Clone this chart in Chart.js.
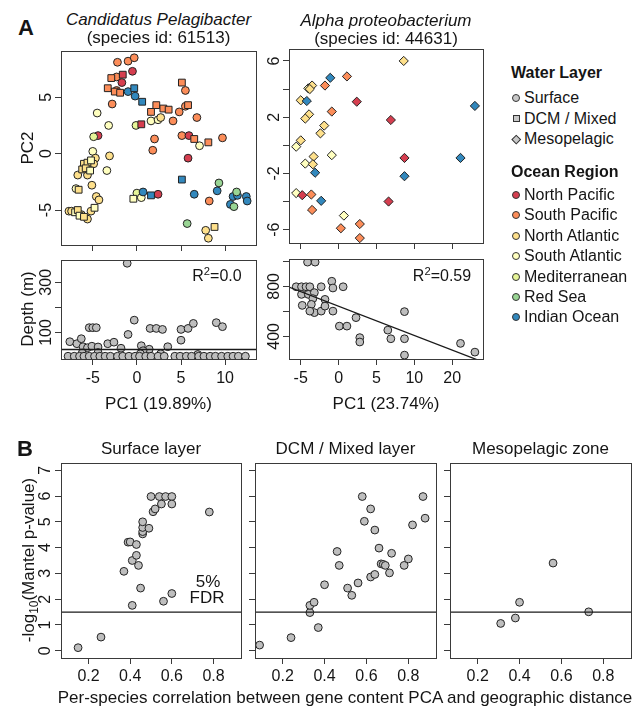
<!DOCTYPE html>
<html><head><meta charset="utf-8">
<script src="https://cdn.jsdelivr.net/npm/chart.js@4.4.1/dist/chart.umd.min.js"></script>
<style>
html,body{margin:0;padding:0;background:#fff;}
#page{position:relative;width:638px;height:710px;overflow:hidden;font-family:"Liberation Sans",Arial,Helvetica,sans-serif;color:#151515;}
canvas{position:absolute;}
.t{position:absolute;white-space:nowrap;transform:translate(-50%,-50%);font-size:17px;line-height:1;}
.rot{transform:translate(-50%,-50%) rotate(-90deg);}
.lg{position:absolute;white-space:nowrap;font-size:16px;line-height:1;transform:translateY(-50%);}
.mk{position:absolute;box-sizing:border-box;border:1px solid #333;}
sup,sub{font-size:70%;line-height:0;}
</style></head>
<body><div id="page"></div>
<script>
// ---------- legend / categories ----------
const regionNames = ['North Pacific','South Pacific','North Atlantic','South Atlantic','Mediterranean','Red Sea','Indian Ocean'];
const regionColors = ['#D53E4F','#FC8D59','#FEE08B','#FFFFBF','#E6F598','#99D594','#3288BD'];
const layerNames = ['Surface','DCM / Mixed','Mesopelagic'];
const layerStyles = ['circle','rect','rectRot'];

// ---------- Candidatus Pelagibacter PCA (layer 0 = surface, 1 = DCM) ----------
const pelX = [-2.2,-1.0,-0.3,-0.5,-2.9,-2.3,-1.6,-1.7,-3.3,-2.5,
  -1.9,-2.3,-1.0,-0.3,-0.2,0.6,-2.8,-4.5,-3.2,-0.1,
  0.5,-4.4,-4.9,2.0,1.8,5.1,5.5,5.8,5.5,6.8,
  4.8,4.1,2.2,3.0,3.6,1.6,1.6,2.4,2.7,5.1,
  5.9,6.5,7.1,8.1,9.7,5.8,5.1,6.5,8.2,9.3,
  9.1,10.6,10.9,11.4,12.4,12.5,11.3,11.0,5.7,7.8,
  8.1,8.8,-0.4,0.0,0.5,0.7,1.6,2.4,-5.0,-4.7,
  -3.1,-6.0,-5.6,-5.2,-4.9,-6.2,-5.8,-5.3,-5.6,-6.7,
  -3.4,-5.1,-6.6,-6.9,-4.6,-4.3,-7.7,-7.4,-7.0,-6.7,
  -6.3,-6.5,-6.0,-5.6,-5.2,-4.8];
const pelY = [8.1,8.2,8.5,7.3,6.7,6.8,7.0,6.3,5.8,5.5,
  5.4,5.6,5.5,5.8,5.1,4.6,4.4,3.6,2.5,2.5,
  2.6,1.6,1.5,1.3,0.3,6.3,5.6,4.3,4.2,3.2,
  3.7,2.9,4.3,4.0,3.9,3.7,2.9,3.0,3.2,1.6,
  1.6,1.3,0.7,1.0,1.4,-0.4,-2.3,-3.6,-4.2,-2.6,
  -3.3,-4.5,-3.8,-3.7,-3.8,-4.2,-3.4,-4.7,-6.2,-6.8,
  -7.5,-6.5,-4.0,-3.5,-3.9,-3.4,-3.7,-3.6,0.2,-0.4,
  -0.2,-0.9,-0.8,-0.6,-0.9,-1.4,-1.3,-1.5,-1.9,-1.9,
  -1.5,-2.8,-3.2,-3.1,-3.8,-4.1,-5.1,-5.1,-5.2,-5.0,
  -5.4,-5.5,-5.6,-5.8,-5.1,-4.8];
const pelLayer = [0,0,0,0,1,0,1,0,1,1,
  1,0,0,1,0,1,0,0,0,0,
  1,0,0,0,0,1,0,1,0,0,
  0,0,1,1,1,1,0,0,0,0,
  0,1,0,1,0,0,1,0,0,0,
  0,0,0,0,0,0,0,0,0,0,
  0,1,1,0,0,0,1,0,0,0,
  0,1,1,1,0,1,1,1,0,0,
  0,0,1,0,0,0,0,0,1,1,
  0,1,1,0,0,1];
const pelRegion = [1,1,1,0,1,1,0,0,1,1,
  1,1,6,6,6,6,1,3,3,4,
  0,0,4,1,1,1,1,1,1,1,
  1,1,1,1,1,1,3,3,2,1,
  0,1,3,1,1,0,6,6,1,5,
  6,6,6,6,6,6,5,5,5,2,
  2,2,3,4,3,6,6,0,3,2,
  2,2,2,3,2,2,2,3,2,2,
  3,2,2,3,2,2,2,2,3,2,
  2,3,2,2,2,3];

// ---------- Alpha proteobacterium PCA (all mesopelagic) ----------
const alpX = [8.6,-1.1,1.1,-1.8,-4.0,-3.5,-3.8,-5.0,-4.2,2.4,
  18.0,-0.9,-3.9,-4.4,6.9,-1.9,-2.4,-5.0,-5.6,-0.9,
  -3.3,-4.4,-3.4,8.7,16.1,-3.1,8.7,-5.6,-4.8,-3.6,
  -2.3,6.6,-3.5,0.7,0.3,2.8,2.8];
const alpY = [6.0,4.8,4.9,4.25,4.05,4.25,4.0,3.2,3.15,3.1,
  2.8,2.4,2.2,1.9,1.8,1.4,0.85,0.35,-0.1,-0.7,
  -0.8,-1.3,-1.35,-0.9,-0.9,-1.95,-2.2,-3.4,-3.55,-3.5,
  -3.95,-4.0,-4.6,-5.0,-5.9,-5.6,-6.6];
const alpRegion = [2,6,1,1,3,2,2,2,6,0,
  6,1,2,2,0,2,2,2,3,3,
  2,3,2,0,6,6,6,3,0,1,
  6,0,1,3,1,1,1];

// ---------- Depth vs PC1 ----------
const pelDepthPC1 = [-1.1,-0.3,-1.0,-5.4,-5.0,-4.6,1.5,2.2,2.9,5.0,5.8,6.4,9.0,9.7,
  -7.6,-6.8,-6.3,-6.1,-5.6,-5.1,-4.4,-3.3,-2.6,-1.8,0.5,1.4,0.7,3.5,5.0,
  -6.2,-4.4,0.4,2.7,6.9,
  -7.8,-7.1,-6.5,-6.0,-5.4,-4.8,-4.2,-3.6,-3.0,-2.2,-1.6,-0.9,-0.2,0.3,1.0,1.6,
  2.4,3.1,4.3,4.9,5.6,6.2,7.0,7.6,8.3,8.9,9.6,10.3,10.9,11.5,12.3];
const pelDepth = [376,149,92,119,119,119,116,116,112,112,116,136,139,123,
  63,55,75,43,39,45,42,55,61,37,47,33,27,43,69,
  18,20,15,15,12,
  5,5,5,5,5,5,5,5,5,5,5,5,5,5,5,5,
  5,5,5,5,5,5,5,5,5,5,5,5,5,5,5];
const pelFitX = [-8.6, 13.5];
const pelFitY = [32, 32];

const alpDepthPC1 = [-4.1,-3.1,-5.6,-4.9,-4.3,-3.8,-2.3,-0.9,-0.75,0.6,
  -4.9,-4.0,-3.2,-1.8,-3.4,-3.6,-3.2,-3.8,-4.8,-2.3,
  -1.8,-0.75,0.1,1.1,2.3,2.8,2.8,6.5,6.9,8.7,
  8.7,8.7,16.1,18.0];
const alpDepth = [994,994,797,797,797,797,797,841,787,797,
  736,736,750,696,702,656,590,602,648,602,
  642,602,482,482,550,390,355,450,381,598,
  381,250,344,274];
const alpFitX = [-6.55, 19.07];
const alpFitY = [795, 195];

// ---------- Panel B: Mantel tests ----------
const surfR = [0.15,0.26,0.41,0.45,0.56,0.60,0.37,0.41,0.43,0.44,0.39,0.40,0.43,0.46,0.46,0.46,0.46,0.49,0.51,0.52,0.55,0.50,0.54,0.57,0.60,0.60,0.78];
const surfP = [0.12,0.53,1.76,2.43,1.92,2.22,3.08,3.50,3.70,3.31,4.21,4.22,4.12,4.53,4.62,4.78,5.00,4.75,5.39,5.50,5.69,5.98,5.98,5.98,5.98,5.69,5.38];
const dcmR = [0.09,0.24,0.33,0.33,0.35,0.37,0.40,0.46,0.47,0.51,0.53,0.56,0.58,0.59,0.62,0.64,0.62,0.64,0.66,0.67,0.68,0.69,0.71,0.72,0.78,0.80,0.82,0.87,0.88];
const dcmP = [0.22,0.51,1.48,1.76,1.88,0.90,2.56,3.85,3.31,2.43,2.15,2.63,5.98,5.02,5.50,4.68,2.86,2.96,3.98,3.37,3.35,3.31,3.02,3.78,3.31,3.56,4.88,5.98,5.14];
const mesoR = [0.31,0.38,0.40,0.56,0.73];
const mesoP = [1.06,1.27,1.88,3.40,1.51];
const fdrLevel = 1.5;

// ---------- ticks ----------
const pelTicksX = [-5,0,5,10];
const alpTicksX = [-5,0,5,10,15];
const alpTickLabelsX = ['-5','0','5','10','20'];
const pcaTicksYLeft = [-5,0,5];
const pcaTicksYRight = [-6,-4,-2,0,2,4,6];
const pcaLabelsYRight = [6,2,-2,-6];
const depthTicksLeft = [100,200,300];
const depthLabelsLeft = [100,300];
const depthTicksRight = [400,600,800,1000];
const depthLabelsRight = [400,800];
const mantelTicksX = [0.2,0.4,0.6,0.8];
const mantelTicksY = [0,1,2,3,4,5,6,7];

// ================= drawing =================
const page = document.getElementById('page');
const FONT = '"Liberation Sans", Arial, Helvetica, sans-serif';

function pts(xs, ys) { return xs.map((x, i) => ({x: x, y: ys[i]})); }

function makePanel(box, datasets, xr, yr, xt, yt, lab) {
  const ml = 50, mt = 8, mr = 8, mb = 34;
  const w = box[2] - box[0] + ml + mr, h = box[3] - box[1] + mt + mb;
  const cv = document.createElement('canvas');
  cv.width = w; cv.height = h;
  cv.style.left = (box[0] - ml) + 'px'; cv.style.top = (box[1] - mt) + 'px';
  cv.style.width = w + 'px'; cv.style.height = h + 'px';
  page.appendChild(cv);
  const boxPlugin = {
    id: 'rbox',
    afterDraw(chart) {
      const ctx = chart.ctx, a = chart.chartArea;
      ctx.save();
      ctx.strokeStyle = '#3a3a3a'; ctx.lineWidth = 1;
      ctx.strokeRect(Math.round(a.left) + 0.5, Math.round(a.top) + 0.5, Math.round(a.right - a.left), Math.round(a.bottom - a.top));
      ctx.fillStyle = '#151515';
      ctx.font = '16px ' + FONT;
      ctx.textAlign = 'center'; ctx.textBaseline = 'middle';
      const xs = chart.scales.x, ys = chart.scales.y;
      (lab.xv || []).forEach((v, i) => ctx.fillText(String(lab.xl ? lab.xl[i] : v), xs.getPixelForValue(v), a.bottom + lab.xo));
      (lab.yv || []).forEach((v) => {
        ctx.save();
        ctx.translate(a.left - lab.yo, ys.getPixelForValue(v));
        ctx.rotate(-Math.PI / 2);
        ctx.fillText(String(v), 0, 0);
        ctx.restore();
      });
      ctx.restore();
    }
  };
  const gridOpts = {drawOnChartArea: false, drawTicks: true, tickLength: 6, color: '#3a3a3a', lineWidth: 1};
  new Chart(cv, {
    type: 'scatter',
    data: {datasets: datasets},
    options: {
      responsive: false, animation: false, events: [],
      layout: {padding: {left: 0, top: mt, right: mr, bottom: 0}},
      plugins: {legend: {display: false}, tooltip: {enabled: false}},
      scales: {
        x: {type: 'linear', position: 'bottom', min: xr[0], max: xr[1],
            afterBuildTicks: s => { s.ticks = xt.map(v => ({value: v})); },
            afterFit: s => { s.height = mb; },
            ticks: {display: false}, border: {display: false}, grid: gridOpts},
        y: {type: 'linear', position: 'left', min: yr[0], max: yr[1],
            afterBuildTicks: s => { s.ticks = yt.map(v => ({value: v})); },
            afterFit: s => { s.width = ml; },
            ticks: {display: false}, border: {display: false}, grid: gridOpts}
      }
    },
    plugins: [boxPlugin]
  });
}

function pointSet(data, style, radius, colors) {
  return {data: data, showLine: false, pointStyle: style, pointRadius: radius,
    pointBackgroundColor: colors, pointBorderColor: '#222', pointBorderWidth: 1};
}
function lineSet(xs, ys) {
  return {data: pts(xs, ys), showLine: true, borderColor: '#1a1a1a', borderWidth: 1.3, pointRadius: 0, fill: false};
}
const GREY = '#BEBEBE';

// --- A: Pelagibacter PCA ---
(function () {
  const sets = [];
  [1, 0].forEach(L => {
    const idx = pelX.map((_, i) => i).filter(i => pelLayer[i] === L);
    sets.push(pointSet(idx.map(i => ({x: pelX[i], y: pelY[i]})), layerStyles[L], L === 1 ? 4.8 : 3.9, idx.map(i => regionColors[pelRegion[i]])));
  });
  makePanel([61, 51, 256, 245], sets, [-8.6, 13.5], [-8.1, 9.1], pelTicksX, pcaTicksYLeft,
    {yv: [5, 0, -5], yo: 14});
})();

// --- A: Alpha proteobacterium PCA ---
makePanel([289, 49, 483, 243],
  [pointSet(pts(alpX, alpY), 'rectRot', 4.6, alpRegion.map(r => regionColors[r]))],
  [-6.55, 19.07], [-6.95, 6.85], alpTicksX, pcaTicksYRight, {yv: pcaLabelsYRight, yo: 14});

// --- A: depth panels ---
makePanel([61, 260, 256, 359],
  [lineSet(pelFitX, pelFitY), pointSet(pts(pelDepthPC1, pelDepth), 'circle', 3.9, GREY)],
  [-8.6, 13.5], [-6, 389], pelTicksX, depthTicksLeft,
  {xv: pelTicksX, xo: 20, yv: depthLabelsLeft, yo: 14});

makePanel([289, 259, 483, 359],
  [lineSet(alpFitX, alpFitY), pointSet(pts(alpDepthPC1, alpDepth), 'circle', 3.9, GREY)],
  [-6.55, 19.07], [219, 1019], alpTicksX, depthTicksRight,
  {xv: alpTicksX, xl: alpTickLabelsX, xo: 20, yv: depthLabelsRight, yo: 14});

// --- B panels ---
const bX = [0.068, 0.932], bY = [-0.28, 7.28];
makePanel([61, 463, 241, 658],
  [lineSet(bX, [fdrLevel, fdrLevel]), pointSet(pts(surfR, surfP), 'circle', 3.9, GREY)],
  bX, bY, mantelTicksX, mantelTicksY, {xv: mantelTicksX, xo: 19, yv: mantelTicksY, yo: 15});
makePanel([255, 463, 436, 658],
  [lineSet(bX, [fdrLevel, fdrLevel]), pointSet(pts(dcmR, dcmP), 'circle', 3.9, GREY)],
  bX, bY, mantelTicksX, mantelTicksY, {xv: mantelTicksX, xo: 19});
makePanel([450, 463, 631, 658],
  [lineSet(bX, [fdrLevel, fdrLevel]), pointSet(pts(mesoR, mesoP), 'circle', 3.9, GREY)],
  bX, bY, mantelTicksX, mantelTicksY, {xv: mantelTicksX, xo: 19});

// ---------- HTML text ----------
function txt(html, cx, cy, css, cls) {
  const d = document.createElement('div');
  d.className = 't' + (cls ? ' ' + cls : '');
  d.innerHTML = html;
  d.style.left = cx + 'px'; d.style.top = cy + 'px';
  if (css) d.style.cssText += css;
  page.appendChild(d);
}
txt('A', 26, 28, 'font-weight:bold;font-size:22px;');
txt('B', 25, 449, 'font-weight:bold;font-size:22px;');
txt('Candidatus Pelagibacter', 158.5, 19, 'font-style:italic;');
txt('(species id: 61513)', 158.5, 37);
txt('Alpha proteobacterium', 386, 20, 'font-style:italic;');
txt('(species id: 44631)', 386, 38);
txt('PC2', 27, 148, '', 'rot');
txt('Depth (m)', 27, 309, '', 'rot');
txt('PC1 (19.89%)', 158.5, 403);
txt('PC1 (23.74%)', 386, 403);
txt('R<sup>2</sup>=0.0', 217, 276, 'font-size:16px;');
txt('R<sup>2</sup>=0.59', 442, 276, 'font-size:16px;');
txt('Surface layer', 151, 448);
txt('DCM / Mixed layer', 345.5, 448);
txt('Mesopelagic zone', 540.5, 448);
txt('-log<sub>10</sub>(Mantel p-value)', 28, 560, '', 'rot');
txt('5%', 208, 581);
txt('FDR', 207, 597);
txt('Per-species correlation between gene content PCA and geographic distance', 345, 697);

// ---------- legend ----------
function lgText(html, x, cy, bold) {
  const d = document.createElement('div');
  d.className = 'lg'; d.innerHTML = html;
  d.style.left = x + 'px'; d.style.top = cy + 'px';
  if (bold) d.style.fontWeight = 'bold';
  page.appendChild(d);
}
function marker(shape, color, cx, cy) {
  const m = document.createElement('div');
  m.className = 'mk';
  let s = 8;
  if (shape === 'rect') s = 7;
  if (shape === 'rectRot') s = 6.5;
  m.style.width = s + 'px'; m.style.height = s + 'px';
  m.style.left = (cx - s / 2) + 'px'; m.style.top = (cy - s / 2) + 'px';
  m.style.background = color;
  if (shape === 'circle') m.style.borderRadius = '50%';
  if (shape === 'rectRot') m.style.transform = 'rotate(45deg)';
  page.appendChild(m);
}
lgText('Water Layer', 511, 73, true);
const layerRows = [98, 118.5, 139];
layerNames.forEach((n, i) => { marker(layerStyles[i], '#C8C8C8', 516, layerRows[i]); lgText(n, 524, layerRows[i]); });
lgText('Ocean Region', 511, 172, true);
regionNames.forEach((n, i) => { const y = 195 + i * 20.4; marker('circle', regionColors[i], 516, y); lgText(n, 524, y); });
</script></body></html>
